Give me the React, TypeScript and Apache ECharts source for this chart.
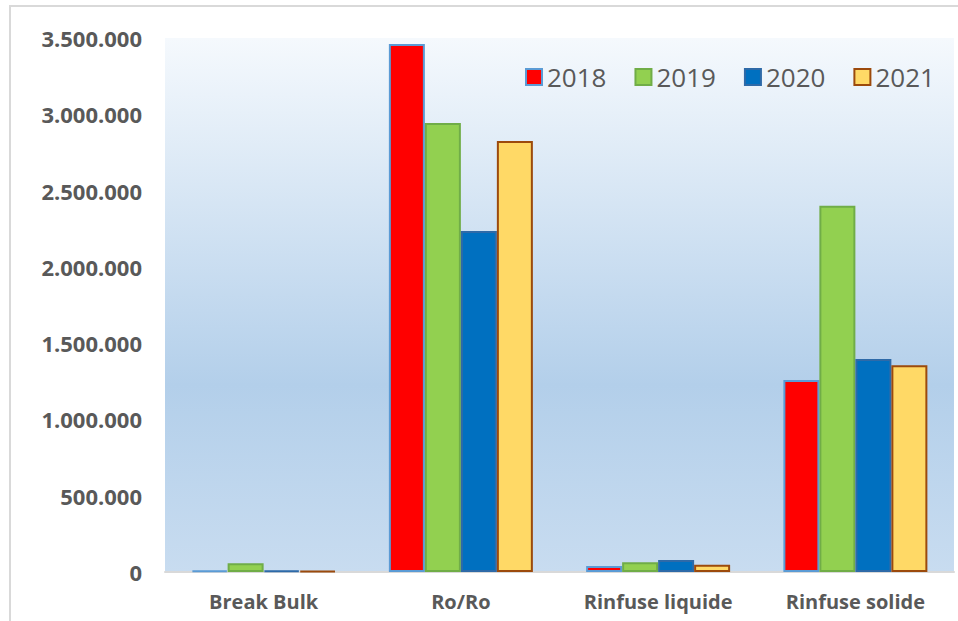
import React, { useEffect, useRef } from "react";
import * as echarts from "echarts";

const categories = ["Break Bulk", "Ro/Ro", "Rinfuse liquide", "Rinfuse solide"];
const years = ["2018", "2019", "2020", "2021"];
const values2018 = [10000, 3460000, 40000, 1258000];
const values2019 = [58000, 2943000, 64000, 2400000];
const values2020 = [10000, 2235000, 79000, 1396000];
const values2021 = [8000, 2825000, 48000, 1355000];
const fills = ["#ff0000", "#92d050", "#0070c0", "#ffd966"];
const borders = ["#5b9bd5", "#70ad47", "#2e6aa8", "#9c4a0c"];

const seriesValues = [values2018, values2019, values2020, values2021];

function fmt(v: number): string {
  return String(Math.round(v)).replace(/\B(?=(\d{3})+(?!\d))/g, ".");
}

export default function App() {
  const ref = useRef<HTMLDivElement>(null);
  useEffect(() => {
    if (!ref.current) return;
    const chart = echarts.init(ref.current, undefined, { renderer: "svg" });
    chart.setOption({
      animation: false,
      backgroundColor: "#ffffff",
      graphic: [
        {
          type: "rect",
          z: -10,
          shape: { x: 10, y: 6, width: 980, height: 640 },
          style: { fill: "#ffffff", stroke: "#d9d9d9", lineWidth: 2 },
        },
      ],
      grid: {
        left: 165,
        top: 38,
        right: 4,
        bottom: 49,
        show: true,
        borderWidth: 0,
        backgroundColor: new echarts.graphic.LinearGradient(0, 0, 0, 1, [
          { offset: 0, color: "#f5f9fd" },
          { offset: 0.65, color: "#b3cfea" },
          { offset: 1, color: "#c8dcf0" },
        ]),
      },
      legend: {
        left: 520,
        top: 59,
        itemWidth: 16,
        itemHeight: 16,
        itemGap: 28,
        icon: "rect",
        textStyle: {
          fontFamily: "Open Sans",
          fontSize: 26,
          color: "#595959",
        },
        data: years,
      },
      xAxis: {
        type: "category",
        data: categories,
        axisLine: { show: true, lineStyle: { color: "#d9d9d9", width: 2 } },
        axisTick: { show: false },
        axisLabel: {
          interval: 0,
          hideOverlap: false,
          margin: 19,
          fontFamily: "Open Sans",
          fontWeight: "bold",
          fontSize: 20,
          color: "#595959",
        },
      },
      yAxis: {
        type: "value",
        min: 0,
        max: 3500000,
        interval: 500000,
        axisLine: { show: false },
        axisTick: { show: false },
        splitLine: { show: false },
        axisLabel: {
          margin: 23,
          formatter: (v: number) => fmt(v),
          fontFamily: "Open Sans",
          fontWeight: "bold",
          fontSize: 22,
          color: "#595959",
        },
      },
      series: years.map((y, i) => ({
        name: y,
        type: "bar",
        data: seriesValues[i],
        barGap: "0%",
        barCategoryGap: "27%",
        itemStyle: {
          color: fills[i],
          borderColor: borders[i],
          borderWidth: 2,
        },
      })),
    });
    return () => chart.dispose();
  }, []);
  return (
    <div
      ref={ref}
      style={{ position: "absolute", left: 0, top: 0, width: 958, height: 621 }}
    />
  );
}
